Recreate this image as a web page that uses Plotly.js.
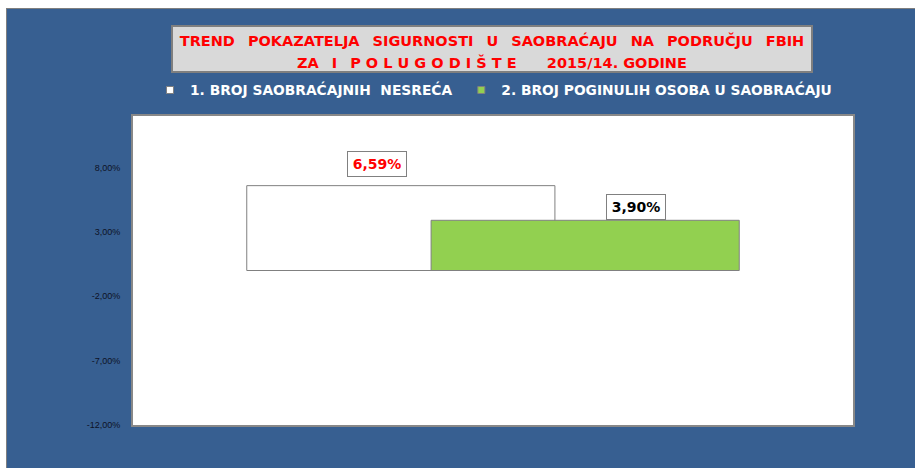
<!DOCTYPE html>
<html>
<head>
<meta charset="utf-8">
<script src="https://cdn.plot.ly/plotly-3.0.1.min.js"></script>
<style>
  html, body { margin: 0; padding: 0; background: #ffffff; width: 915px; height: 468px; overflow: hidden; }
  #bg { position: absolute; left: 6px; top: 8px; right: 0; bottom: 0; background: #375F91;
        border-top: 1px solid #7f7f7f; border-left: 1px solid #7f7f7f; }
  #chart { position: absolute; left: 0; top: 0; width: 915px; height: 468px; }
</style>
</head>
<body>
<div id="bg"></div>
<div id="chart"></div>
<script>
// ---- data ----
const seriesNames = ['1. BROJ SAOBRAĆAJNIH\u00A0\u00A0NESREĆA', '2. BROJ POGINULIH OSOBA U SAOBRAĆAJU'];
const seriesValues = [6.59, 3.90];
const category = [0];
const seriesColors = ['#FFFFFF', '#92D050'];
const labelColors = ['#FF0000', '#000000'];
const yTickVals = [-12, -7, -2, 3, 8];
const yTickText = yTickVals.map(v => v.toFixed(2).replace('.', ',') + '%');
const G = '\u00A0\u00A0\u2009';
const titleLines = [
  ['TREND', 'POKAZATELJA', 'SIGURNOSTI', 'U', 'SAOBRAĆAJU', 'NA', 'PODRUČJU', 'FBIH'].join(G),
  'ZA' + G + 'I' + G + 'P\u00A0O\u00A0L\u00A0U\u00A0G\u00A0O\u00A0D\u00A0I\u00A0Š\u00A0T\u00A0E' +
    '\u00A0\u00A0\u00A0\u00A0\u00A0\u00A0' + '2015/14.\u00A0GODINE'
];

// ---- style ----
const barWidth = 0.428;
const barOffsets = [-0.342, -0.086];
const labelShiftX = [-24, 51];
const labelShiftY = [9, 0];
const legendX = [0.0236, 0.456];
const FONT = '"DejaVu Sans", Verdana, sans-serif';

const bars = seriesNames.map((name, i) => ({
  type: 'bar',
  name: name,
  x: category,
  y: [seriesValues[i]],
  width: barWidth,
  offset: barOffsets[i],
  marker: { color: seriesColors[i], line: { color: '#808080', width: 1 } },
  showlegend: false,
  hoverinfo: 'skip'
}));

// legend entries (small square keys as in the original), one legend per series
const keys = seriesNames.map((name, i) => ({
  type: 'scatter', mode: 'markers',
  name: name,
  x: [null], y: [null],
  marker: { symbol: 'square', size: 7, color: seriesColors[i], line: { color: '#808080', width: 1 } },
  showlegend: true,
  legend: i === 0 ? 'legend' : 'legend' + (i + 1),
  hoverinfo: 'skip'
}));

const annotations = seriesNames.map((name, i) => ({
  xref: 'x', yref: 'y',
  x: category[0] + barOffsets[i] + barWidth / 2,
  y: seriesValues[i],
  xanchor: 'center', yanchor: 'bottom',
  xshift: labelShiftX[i], yshift: labelShiftY[i],
  text: seriesValues[i].toFixed(2).replace('.', ',') + '%',
  showarrow: false,
  font: { family: FONT, size: 14, color: labelColors[i], weight: 700 },
  bgcolor: '#FFFFFF', bordercolor: '#808080', borderwidth: 1, borderpad: 1,
  width: 56, height: 22
}));

function legendStyle(x) {
  return {
    orientation: 'h',
    x: x, xanchor: 'left',
    y: 1.084, yanchor: 'middle',
    bgcolor: 'rgba(0,0,0,0)',
    font: { family: FONT, size: 13.8, color: '#FFFFFF', weight: 700 }
  };
}

const layout = {
  width: 915, height: 468, autosize: false,
  margin: { l: 133, r: 62, t: 116, b: 43, pad: 0 },
  paper_bgcolor: 'rgba(0,0,0,0)',
  plot_bgcolor: '#FFFFFF',
  separators: ',.',
  barmode: 'overlay',
  showlegend: true,
  title: {
    text: titleLines.map(t => '<span style="font-size:14.5px">' + t + '</span>').join('<br>'),
    x: 492 / 915, xanchor: 'center',
    y: 1 - 45.5 / 468, yanchor: 'middle',
    font: { family: FONT, size: 17.3, color: '#FF0000', weight: 700 }
  },
  legend: legendStyle(legendX[0]),
  legend2: legendStyle(legendX[1]),
  xaxis: {
    type: 'linear', range: [-0.5, 0.5],
    showgrid: false, zeroline: false, showticklabels: false, ticks: '',
    showline: true, mirror: true, linecolor: '#888888', linewidth: 2, fixedrange: true
  },
  yaxis: {
    range: [-12, 12],
    tickmode: 'array', tickvals: yTickVals, ticktext: yTickText,
    ticks: 'outside', ticklen: 9, tickcolor: 'rgba(0,0,0,0)',
    tickfont: { family: '"Liberation Sans", Arial, sans-serif', size: 9, color: '#0d1226' },
    showgrid: false, zeroline: false,
    showline: true, mirror: true, linecolor: '#888888', linewidth: 2, fixedrange: true
  },
  shapes: [{
    type: 'rect', xref: 'paper', yref: 'paper', layer: 'below',
    x0: (172 - 133) / 720, x1: (812 - 133) / 720,
    y0: 1 + (116 - 72) / 309, y1: 1 + (116 - 26) / 309,
    fillcolor: '#D9D9D9', line: { color: '#7f7f7f', width: 2 }
  }],
  annotations: annotations
};

Plotly.newPlot('chart', bars.concat(keys), layout, { displayModeBar: false, staticPlot: true });
</script>
</body>
</html>
